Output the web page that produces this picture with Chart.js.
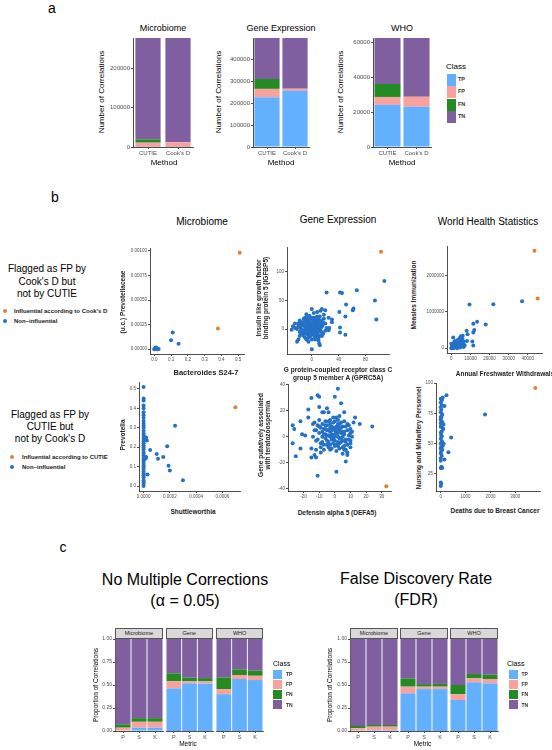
<!DOCTYPE html>
<html>
<head>
<meta charset="utf-8">
<script src="https://cdn.jsdelivr.net/npm/chart.js@4.4.0/dist/chart.umd.min.js"></script>
<style>
html, body { margin: 0; padding: 0; background: #fff; }
#fig { position: relative; width: 552px; height: 750px; overflow: hidden; font-family: 'Liberation Sans', Arial, sans-serif; color: #000; }
#fig canvas { position: absolute; }
.t { position: absolute; white-space: pre; line-height: 1; text-align: center; }
.key { position: absolute; }
.strip { position: absolute; box-sizing: border-box; background: #d9d9d9; border: 1px solid #555; font-size: 5.5px; color: #1a1a1a; display: flex; align-items: center; justify-content: center; }
</style>
</head>
<body>
<div id="fig"></div>
<script>
// ---------- panel a: number of correlations per method ----------
const methods = ['CUTIE', "Cook's D"];
const classes = ['TP', 'FP', 'FN', 'TN'];
const classColors = ['#63b1fe', '#f9a19f', '#238b22', '#7f5fa0'];

const microTP = [500, 500];
const microFP = [10500, 11500];
const microFN = [8500, 0];
const microTN = [257000, 264500];

const geneTP = [227000, 256000];
const geneFP = [38000, 10000];
const geneFN = [45000, 0];
const geneTN = [187000, 231000];

const whoTP = [24100, 23000];
const whoFP = [4500, 5700];
const whoFN = [7400, 0];
const whoTN = [26300, 33600];

const microCountTicks = [0, 100000, 200000];
const geneCountTicks = [0, 100000, 200000, 300000, 400000];
const whoCountTicks = [0, 20000, 40000, 60000];

// ---------- panel b: example scatter plots [x, y] ----------
const microCooksInfl = [[0.51, 0.00098], [0.38, 0.00021]];
const microCooksNon = [[0.11, 0.00017], [0.10, 0.00009], [0.145, 0.000055], [0.0, 0.0], [0.006, 0.000012],
  [0.012, 0.000004], [0.02, 0.0], [0.016, 0.00001], [0.026, 0.000002], [0.003, 0.000007], [0.009, 0.000016]];

const geneCooksInfl = [[103, 135]];
const geneCooksNon = [[108, 84], [94, 50], [96, 17], [67, 68], [42, 64], [45, 63], [22, 64], [51, 43], [62, 36],
  [61, 33], [41, 30], [50, 22], [42, 3], [42, -6], [50, -10], [25, 20], [30, 12], [20, 33], [15, 35], [13, 32],
  [8, 30], [18, 25], [12, 22], [0, 35], [-3, 23], [-10, 20], [-20, -18], [-22, -22], [-30, -1], [-28, 5], [0, -35],
  [11, -25], [12, -28], [-5, -22], [5, -18], [25, -2], [26, 2], [20, 10], [17, -8], [10, -15], [-15, -8], [-25, 10],
  [-18, 15], [-12, 12], [-8, 26], [3, 28], [-2, -12], [30, 17], [22, 2],
  [0, 0], [2, 3], [-3, 5], [5, -2], [-6, -3], [8, 4], [-8, 8], [4, 10], [-2, -6], [6, 6], [1, 12], [-5, 14], [10, 0],
  [12, 8], [-10, 2], [-12, -4], [3, -8], [-1, 18], [7, 15], [9, -6], [-7, -9], [14, 3], [-4, 1], [2, -3], [5, 2],
  [-9, 5], [11, 12], [-14, 6], [0, 7], [3, 4], [-6, 10], [8, -10], [-3, -12], [6, -4], [13, -3], [-11, -7], [4, 16],
  [-2, 3], [1, -1], [9, 9], [-8, -1], [16, 6], [-16, 0], [7, -13], [-5, -15], [2, 20], [10, 17], [-13, 10], [15, -6],
  [-1, -4], [4, 0], [-4, 8], [6, 11], [12, -11], [-7, 3], [3, 13], [0, -10], [-9, 15], [17, 11], [-18, 4],
  [-20, 5], [-22, 0], [-18, -5], [-25, 2], [-15, 12], [-17, 8], [-20, 10], [-12, 18], [-6, 20], [-3, 16], [5, 20],
  [8, 22], [14, 15], [18, 18], [20, -3], [15, -12], [10, -20], [-8, -18], [-12, -12], [-18, -12], [-10, -15],
  [0, -18], [4, -14], [-5, -8], [-1, 10], [1, 5], [-3, -1], [7, 1], [-10, 8], [9, 13], [-7, 13], [11, 5], [13, 9],
  [-14, -2], [0, -6], [6, -8], [-4, -5], [2, 8], [-9, -3], [3, 1]];

const whoCooksInfl = [[43500, 2680000], [45200, 1370000]];
const whoCooksNon = [[37000, 1290000], [22000, 1210000], [9500, 1200000], [18000, 650000], [13500, 730000],
  [11500, 670000], [12000, 500000], [11500, 430000], [8000, 480000], [8500, 380000], [8200, 200000], [11000, 180000],
  [11500, 70000], [1000, 290000], [6000, 340000], [5000, 330000], [4500, 280000], [3500, 230000], [6500, 180000],
  [2000, 150000], [3000, 100000], [1500, 50000], [500, 10000], [0, 0], [1000, 80000], [2500, 40000], [4000, 60000],
  [5000, 120000], [3500, 150000], [2000, 200000], [1200, 120000], [600, 60000], [300, 20000], [800, 30000],
  [1800, 20000], [3000, 0], [4500, 20000], [5500, 50000], [6500, 30000], [7000, 80000], [2200, 90000],
  [2800, 180000], [4200, 190000], [5200, 230000], [1500, 170000], [800, 100000], [200, 40000], [0, 120000],
  [1000, 0], [5800, 260000], [3800, 110000], [4800, 160000], [2600, 130000], [6200, 120000], [1600, 100000]];

const microCutieInfl = [[0.0007, 0.405]];
const microCutieNon = [[0, 0], [0, 0.01], [0, 0.02], [0, 0.03], [0, 0.045], [0, 0.055], [0, 0.065], [0, 0.075],
  [0, 0.09], [0, 0.1], [0, 0.11], [0, 0.12], [0, 0.13], [0, 0.14], [0, 0.155], [0, 0.165], [0, 0.175], [0, 0.19],
  [0, 0.2], [0, 0.21], [0, 0.22], [0, 0.23], [0, 0.245], [0, 0.26], [0, 0.27], [0, 0.285], [0, 0.3], [0, 0.31],
  [0, 0.32], [0, 0.335], [0, 0.35], [0, 0.365], [0, 0.38], [0, 0.4], [0, 0.415], [0, 0.44], [0, 0.45], [0, 0.51],
  [0.00002, 0.25], [0.000025, 0.235], [0.00002, 0.15], [0.000015, 0.14], [0.00003, 0.06], [0.00005, 0.185],
  [0.0001, 0.165], [0.00011, 0.14], [0.00015, 0.15], [0.00018, 0.205], [0.00024, 0.31], [0.00019, 0.105],
  [0.0002, 0.08], [0.0003, 0.03]];

const geneCutieInfl = [[33, -38]];
const geneCutieNon = [[-27, -5], [-27, 9], [-26, 6], [-25, -15], [-22, -9], [-22, 12], [-21, 2], [-19, 1], [-17, 15],
  [-17, 21], [-15, -9], [-15, -16], [-15, 30], [-14, 10], [-13, -14], [-12, -16], [-11, 32], [-10, 31], [-10, 23],
  [-11, -30], [-5, 22], [-3, 13], [0, 31], [2, 37], [1, -27], [4, 26], [6, 19], [7, -19], [8, -12], [8, -14], [9, 9],
  [10, -5], [10, -3], [12, 11], [13, 15], [16, 10], [24, 8], [-9, -12], [-8, 19], [-7, 19], [-4, 19], [-1, 15],
  [3, 16], [-12, -10], [5, -13], [7, -10], [-13, 11], [-10, 13], [11, 0], [10, 3],
  [-2, 2], [0, 0], [3, 5], [-5, -3], [1, 8], [-6, 6], [4, -4], [-3, 10], [2, -7], [6, 2], [-8, 0], [-1, -5], [5, 8],
  [-4, -8], [7, -2], [-9, 7], [0, 12], [3, -1], [-7, -6], [8, 5], [-2, -2], [1, 3], [-5, 9], [4, 11], [-10, 3],
  [6, -7], [-3, 4], [2, 10], [-6, -1], [9, 1], [-1, 7], [3, -9], [-8, 10], [5, -3], [0, -3], [-4, 1], [7, 8],
  [-11, -2], [2, 0], [-3, -10], [8, -6], [-6, 12], [1, -11], [4, 3], [-9, -5], [6, 12], [-1, 0], [-5, 5], [3, 7],
  [-7, 2], [0, 5], [2, -4], [-2, 8], [5, 0], [-4, -4], [10, 6], [-12, 5], [1, 15], [-3, -6], [6, -10],
  [-14, 0], [-13, 5], [-12, -3], [-10, 8], [-9, -8], [-8, 4], [-7, -10], [-6, 9], [-5, -6], [-4, 12], [-3, 0],
  [-2, -9], [-1, 11], [0, -7], [1, 6], [2, 13], [3, -5], [4, 7], [5, -8], [6, 4], [7, -4], [8, 10], [9, -2],
  [10, -8], [11, 4], [-11, 9], [-8, -4], [-6, 2], [-4, 5], [-2, 5], [0, 2], [2, 3], [4, -1], [-1, -2], [-3, 7],
  [1, -6], [3, 10], [-7, 6], [5, 4], [-5, 1]];

const whoCutieInfl = [[3800, 96]];
const whoCutieNon = [[1780, 74], [420, 55], [310, 43], [150, 37], [230, 90], [150, 81], [100, 62], [120, 50],
  [0, 15], [0, 18], [20, 17], [0, 30], [30, 31], [60, 30], [0, 36], [0, 38], [40, 40], [0, 42], [20, 44], [60, 45],
  [0, 46], [80, 48], [0, 50], [30, 51], [50, 52], [0, 54], [20, 57], [0, 59], [40, 60], [80, 63], [0, 64], [20, 65],
  [0, 67], [50, 68], [0, 70], [30, 72], [60, 74], [0, 76], [20, 78], [0, 80], [40, 82], [0, 84], [50, 86], [0, 87],
  [80, 88], [10, 47], [70, 67], [0, 72], [110, 66], [40, 56]];

const microTopXTicks = [0, 0.1, 0.2, 0.3, 0.4, 0.5];
const microTopYTicks = [0, 0.00025, 0.0005, 0.00075, 0.001];
const geneTopXTicks = [0, 40, 80];
const geneTopYTicks = [0, 50, 100];
const whoTopXTicks = [0, 10000, 20000, 30000, 40000];
const whoTopYTicks = [0, 1000000, 2000000];
const microBotXTicks = [0, 0.0002, 0.0004, 0.0006];
const microBotYTicks = [0, 0.1, 0.2, 0.3, 0.4, 0.5];
const geneBotXTicks = [-20, -10, 0, 10, 20, 30];
const geneBotYTicks = [-40, -20, 0, 20, 40];
const whoBotXTicks = [0, 1000, 2000, 3000];
const whoBotYTicks = [25, 50, 75, 100];

// ---------- panel c: proportions, order Microbiome P,S,K | Gene P,S,K | WHO P,S,K ----------
const metrics = ['P', 'S', 'K'];
const facets = ['Microbiome', 'Gene', 'WHO'];
const propTicks = [0, 0.25, 0.5, 0.75, 1];
const rawTP = [0.005, 0.036, 0.036, 0.464, 0.518, 0.515, 0.40, 0.565, 0.554];
const rawFP = [0.031, 0.064, 0.064, 0.076, 0.025, 0.025, 0.056, 0.044, 0.046];
const rawFN = [0.036, 0.040, 0.040, 0.087, 0.037, 0.035, 0.127, 0.061, 0.056];
const rawTN = [0.928, 0.860, 0.860, 0.373, 0.420, 0.425, 0.417, 0.330, 0.344];
const fdrTP = [0.005, 0.010, 0.010, 0.410, 0.456, 0.456, 0.337, 0.529, 0.518];
const fdrFP = [0.025, 0.037, 0.037, 0.072, 0.026, 0.026, 0.063, 0.043, 0.047];
const fdrFN = [0.025, 0.018, 0.018, 0.090, 0.028, 0.030, 0.100, 0.048, 0.047];
const fdrTN = [0.945, 0.935, 0.935, 0.428, 0.490, 0.488, 0.500, 0.380, 0.388];

const BLUE = '#2571c6', ORANGE = '#e3812f';

// ---------- helpers ----------
const fig = document.getElementById('fig');
Chart.defaults.font.family = "'Liberation Sans', Arial, sans-serif";
Chart.defaults.color = '#4d4d4d';
Chart.defaults.animation = false;
Chart.defaults.plugins.legend.display = false;
Chart.defaults.plugins.tooltip.enabled = false;

function text(str, x, y, size, o) {
  o = o || {};
  const d = document.createElement('div');
  d.className = 't';
  d.textContent = str;
  d.style.left = x + 'px';
  d.style.top = y + 'px';
  d.style.fontSize = size + 'px';
  if (o.bold) d.style.fontWeight = 'bold';
  if (o.lh) d.style.lineHeight = o.lh + 'px';
  if (o.color) d.style.color = o.color;
  let tf = o.left ? 'translate(0,-50%)' : 'translate(-50%,-50%)';
  if (o.rot) tf += ' rotate(-90deg)';
  d.style.transform = tf;
  fig.appendChild(d);
}

function box(x, y, w, h, color, cls) {
  const d = document.createElement('div');
  d.className = cls || 'key';
  d.style.left = x + 'px';
  d.style.top = y + 'px';
  d.style.width = w + 'px';
  d.style.height = h + 'px';
  if (color) d.style.background = color;
  fig.appendChild(d);
  return d;
}

function dot(x, y, color) {
  const d = box(x - 2, y - 2, 4, 4, color);
  d.style.borderRadius = '50%';
}

// place a chart so that its plot area lands on [x0,x1] x [y0,y1]
function mount(b, config) {
  const pt = b.pt == null ? 5 : b.pt, pr = b.pr == null ? 8 : b.pr;
  const left = Math.round(b.x0 - b.yW), top = Math.round(b.y0) - pt;
  const c = document.createElement('canvas');
  c.width = Math.round(b.x1) - left + pr;
  c.height = Math.round(b.y1) - top + b.xH;
  c.style.left = left + 'px';
  c.style.top = top + 'px';
  fig.appendChild(c);
  config.options = Object.assign({
    responsive: false,
    animation: false,
    layout: {padding: {top: pt, right: pr, left: 0, bottom: 0}}
  }, config.options);
  return new Chart(c, config);
}

function linAxis(kind, size, min, max, tickVals, digits, fs) {
  return {
    type: 'linear', min: min, max: max,
    afterBuildTicks: s => { s.ticks = tickVals.map(v => ({value: v})); },
    afterFit: kind === 'y'
      ? s => { s.width = size; s.paddingTop = 0; s.paddingBottom = 0; }
      : s => { s.height = size; s.paddingLeft = 0; s.paddingRight = 0; },
    border: {display: true, color: '#222', width: 0.8},
    grid: {drawOnChartArea: false, tickLength: 2, color: '#222', lineWidth: 0.8},
    ticks: {
      autoSkip: false, maxRotation: 0, padding: 1,
      font: {size: fs}, color: '#4d4d4d',
      callback: v => digits == null ? String(Math.round(v)) : v.toFixed(digits)
    }
  };
}

function catAxis(size, fs) {
  return {
    type: 'category', offset: true, stacked: true,
    afterFit: s => { s.height = size; s.paddingLeft = 0; s.paddingRight = 0; },
    border: {display: true, color: '#222', width: 0.8},
    grid: {drawOnChartArea: false, tickLength: 2, color: '#222', lineWidth: 0.8, offset: false},
    ticks: {font: {size: fs}, padding: 1, color: '#4d4d4d', maxRotation: 0, autoSkip: false}
  };
}

// ---------- panel a ----------
function countChart(b, vals, max, tickVals, barPct) {
  const y = linAxis('y', 26, 0, max, tickVals, null, 6);
  y.stacked = true;
  mount(b, {
    type: 'bar',
    data: {
      labels: methods,
      datasets: classes.map((c, i) => ({
        label: c, data: vals[i], backgroundColor: classColors[i],
        borderWidth: 0, barPercentage: barPct, categoryPercentage: 1
      }))
    },
    options: {scales: {x: catAxis(12, 6), y: y}}
  });
}

text('a', 52, 8, 14);
countChart({x0: 133, x1: 193, y0: 38, y1: 147, yW: 26, xH: 12}, [microTP, microFP, microFN, microTN], 276500, microCountTicks, 0.84);
countChart({x0: 253, x1: 309, y0: 38, y1: 147, yW: 26, xH: 12}, [geneTP, geneFP, geneFN, geneTN], 497000, geneCountTicks, 0.9);
countChart({x0: 373, x1: 431, y0: 38, y1: 147, yW: 26, xH: 12}, [whoTP, whoFP, whoFN, whoTN], 62300, whoCountTicks, 0.9);

[['Microbiome', 163], ['Gene Expression', 281], ['WHO', 402]].forEach(p => text(p[0], p[1], 28, 9));
[102, 219, 341].forEach(x => text('Number of Correlations', x, 92, 8, {rot: true}));
[164, 281, 402].forEach(x => text('Method', x, 163, 8));

text('Class', 446, 67, 8, {left: true});
classes.forEach((c, i) => {
  box(447, 74 + i * 12.3, 8.7, 12, classColors[i]);
  text(c, 458, 80 + i * 12.3, 5.5, {left: true, bold: true, color: '#333'});
});

// ---------- panel b ----------
function scatterChart(b, infl, non, xa, ya) {
  const pts = a => a.map(p => ({x: p[0], y: p[1]}));
  mount(b, {
    type: 'scatter',
    data: {
      datasets: [
        {data: pts(non), pointBackgroundColor: BLUE, pointRadius: 2, pointBorderWidth: 0},
        {data: pts(infl), pointBackgroundColor: ORANGE, pointRadius: 2, pointBorderWidth: 0}
      ]
    },
    options: {scales: {x: xa, y: ya}}
  });
}

text('b', 55, 197, 14);
text('Microbiome', 202, 222, 10);
text('Gene Expression', 338, 220, 10);
text('World Health Statistics', 488, 222, 10);

text('Flagged as FP by\nCook\'s D but\nnot by CUTIE', 47, 282, 10, {lh: 12.5});
dot(5, 311, ORANGE);
text('Influential according to Cook\'s D', 14, 311, 6, {left: true, bold: true, color: '#222'});
dot(5, 321, BLUE);
text('Non\u2013influential', 14, 321, 6, {left: true, bold: true, color: '#222'});

text('Flagged as FP by\nCUTIE but\nnot by Cook\'s D', 50, 427, 10, {lh: 12});
dot(12, 457, ORANGE);
text('Influential according to CUTIE', 22, 457, 6, {left: true, bold: true, color: '#222'});
dot(12, 467, BLUE);
text('Non\u2013influential', 22, 467, 6, {left: true, bold: true, color: '#222'});

scatterChart({x0: 150, x1: 244, y0: 248, y1: 353.5, yW: 24, xH: 10}, microCooksInfl, microCooksNon,
  linAxis('x', 10, -0.0255, 0.5355, microTopXTicks, 1, 4.5), linAxis('y', 24, -0.000049, 0.001029, microTopYTicks, 5, 4.5));
scatterChart({x0: 287, x1: 389, y0: 246.6, y1: 354, yW: 14, xH: 10}, geneCooksInfl, geneCooksNon,
  linAxis('x', 10, -36.9, 114.9, geneTopXTicks, null, 4.5), linAxis('y', 14, -43.5, 143.5, geneTopYTicks, null, 4.5));
scatterChart({x0: 446.7, x1: 541.6, y0: 246.2, y1: 353.2, yW: 24, xH: 10}, whoCooksInfl, whoCooksNon,
  linAxis('x', 10, -2260, 47460, whoTopXTicks, null, 4.5), linAxis('y', 24, -134000, 2814000, whoTopYTicks, null, 4.5));
scatterChart({x0: 138.7, x1: 240.3, y0: 382.3, y1: 490.6, yW: 12, xH: 10}, microCutieInfl, microCutieNon,
  linAxis('x', 10, -0.000035, 0.000735, microBotXTicks, 4, 4.5), linAxis('y', 12, -0.0255, 0.5355, microBotYTicks, 1, 4.5));
scatterChart({x0: 288, x1: 391, y0: 384.1, y1: 490.6, yW: 14, xH: 10}, geneCutieInfl, geneCutieNon,
  linAxis('x', 10, -30, 36, geneBotXTicks, null, 4.5), linAxis('y', 14, -41.75, 40.75, geneBotYTicks, null, 4.5));
scatterChart({x0: 436, x1: 539.6, y0: 383.3, y1: 491.3, yW: 12, xH: 10}, whoCutieInfl, whoCutieNon,
  linAxis('x', 10, -190, 3990, whoBotXTicks, null, 4.5), linAxis('y', 12, 10.95, 100.05, whoBotYTicks, null, 4.5));

const bt = {bold: true, color: '#222'};
text('(u.c.) Prevotellaceae', 122.5, 302, 6.5, Object.assign({rot: true}, bt));
text('Bacteroides S24-7', 206, 373, 7.5, bt);
text('Insulin like growth factor\nbinding protein 5 (IGFBP5)', 262, 298, 6.5, Object.assign({rot: true, lh: 7}, bt));
text('G protein-coupled receptor class C\ngroup 5 member A (GPRC5A)', 338, 374, 6.5, Object.assign({lh: 7.7}, bt));
text('Measles Immunization', 414, 295, 6.5, Object.assign({rot: true}, bt));
text('Annual Freshwater Withdrawals', 505, 374, 6.5, bt);
text('Prevotella', 122.5, 435, 6.5, Object.assign({rot: true}, bt));
text('Shuttleworthia', 193, 512, 6.5, bt);
text('Gene putatively associated\nwith teratozoospermia', 264, 435, 6.5, Object.assign({rot: true, lh: 7}, bt));
text('Defensin alpha 5 (DEFA5)', 337, 512.5, 6.5, bt);
text('Nursing and Midwifery Personnel', 419, 438, 6.5, Object.assign({rot: true}, bt));
text('Deaths due to Breast Cancer', 495, 511, 6.5, bt);

// ---------- panel c ----------
function facetChart(b, k, tp, fp, fn, tn, showY) {
  const sl = a => a.slice(k * 3, k * 3 + 3);
  const vals = [sl(tp), sl(fp), sl(fn), sl(tn)];
  let y;
  if (showY) {
    y = linAxis('y', 20, 0, 1, propTicks, 2, 5);
  } else {
    y = {display: false, min: 0, max: 1};
  }
  y.stacked = true;
  mount(b, {
    type: 'bar',
    data: {
      labels: metrics,
      datasets: classes.map((c, i) => ({
        label: c, data: vals[i], backgroundColor: classColors[i],
        borderWidth: 0, barPercentage: 0.94, categoryPercentage: 1
      }))
    },
    options: {scales: {x: catAxis(10, 5.5), y: y}}
  });
  const s = box(b.x0, 628, b.x1 - b.x0, 10.5, null, 'strip');
  s.textContent = facets[k];
}

function facetGroup(xs, tp, fp, fn, tn) {
  xs.forEach((r, k) => facetChart({x0: r[0], x1: r[1], y0: 639, y1: 731, yW: k === 0 ? 20 : 0, xH: 10, pt: 4, pr: 4},
    k, tp, fp, fn, tn, k === 0));
}

function classLegend(x, keyX, labX) {
  text('Class', x, 663, 7, {left: true});
  classes.forEach((c, i) => {
    box(keyX, 669.5 + i * 10.2, 9, 9, classColors[i]);
    text(c, labX, 674 + i * 10.2, 5, {left: true, bold: true, color: '#333'});
  });
}

text('c', 63, 547, 14);
text('No Multiple Corrections\n(\u03b1 = 0.05)', 185, 590, 16, {lh: 21});
text('False Discovery Rate\n(FDR)', 416, 589, 16, {lh: 21});

facetGroup([[115, 162.7], [165.7, 212.7], [216, 263.3]], rawTP, rawFP, rawFN, rawTN);
facetGroup([[350, 397.7], [400.3, 447.7], [450.3, 497.7]], fdrTP, fdrFP, fdrFN, fdrTN);

text('Proportion of Correlations', 96, 685, 6.5, {rot: true});
text('Proportion of Correlations', 330, 685, 6.5, {rot: true});
text('Metric', 188, 744, 6.5);
text('Metric', 422.5, 744, 6.5);

classLegend(273, 273, 286);
classLegend(507, 508.5, 521.5);
</script>
</body>
</html>
